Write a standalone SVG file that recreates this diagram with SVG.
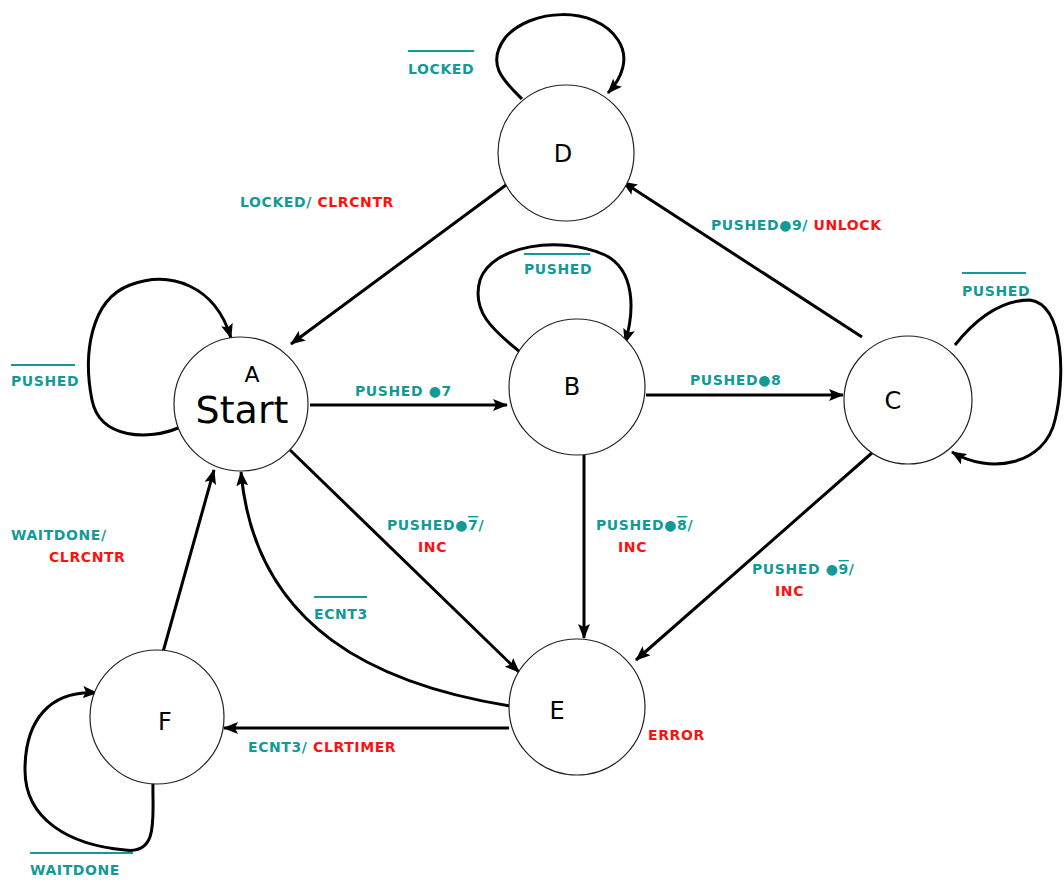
<svg xmlns="http://www.w3.org/2000/svg" width="1064" height="883" viewBox="0 0 1064 883">
<style>
.node{fill:#fff;stroke:#222;stroke-width:1.2}
.nl{font-family:"Comic Sans MS","DejaVu Sans",sans-serif;font-size:24px;fill:#000;text-anchor:middle}
.e{fill:none;stroke:#000;stroke-width:3}
.t{font-family:"DejaVu Sans",sans-serif;font-weight:bold;font-size:14px;fill:#139a96;letter-spacing:0.6px}
.r{fill:#ff1010}
.ov{stroke:#139a96;stroke-width:2}
</style>
<defs>
<marker id="ah" markerUnits="userSpaceOnUse" markerWidth="16" markerHeight="12" refX="14" refY="6" orient="auto">
<path d="M0,0 L15,6 L0,12 L3,6 z" fill="#000"/>
</marker>
</defs>
<rect width="1064" height="883" fill="#fff"/>
<g id="connectors">
<path class="e" marker-end="url(#ah)" d="M522,99 C505,82 485,65 505,38 C530,8 595,5 618,40 C630,58 622,78 608,93"/>
<path class="e" marker-end="url(#ah)" d="M506,185 L291,344"/>
<path class="e" marker-end="url(#ah)" d="M862,337 L623,182"/>
<path class="e" marker-end="url(#ah)" d="M178,428 C150,440 100,440 92,400 C83,355 90,300 130,285 C170,270 215,285 231,338"/>
<path class="e" marker-end="url(#ah)" d="M520,352 C500,335 470,315 480,280 C492,245 560,235 605,255 C635,270 635,310 625,343"/>
<path class="e" marker-end="url(#ah)" d="M955,345 C975,320 1000,300 1030,300 C1065,305 1065,380 1055,420 C1045,465 990,475 952,452"/>
<path class="e" marker-end="url(#ah)" d="M310,405 L507,405"/>
<path class="e" marker-end="url(#ah)" d="M646,395 L843,395"/>
<path class="e" marker-end="url(#ah)" d="M290,450 L519,672"/>
<path class="e" marker-end="url(#ah)" d="M584,455 L584,638"/>
<path class="e" marker-end="url(#ah)" d="M873,452 L636,660"/>
<path class="e" marker-end="url(#ah)" d="M510,706 C380,685 255,630 241,472"/>
<path class="e" marker-end="url(#ah)" d="M509,728 L224,728"/>
<path class="e" marker-end="url(#ah)" d="M163,652 L214,470"/>
<path class="e" marker-end="url(#ah)" d="M153,782 C152,815 160,855 125,850 C70,845 25,820 25,770 C25,720 50,690 97,693"/>
</g>
<g id="D"><circle class="node" cx="566" cy="153" r="68"/><text class="nl" x="563" y="162">D</text></g>
<g id="A"><circle class="node" cx="241" cy="404" r="67"/><text class="nl" x="252" y="382" style="font-size:22px">A</text><text class="nl" x="242" y="423" style="font-size:38px">Start</text></g>
<g id="B"><circle class="node" cx="577" cy="387" r="68"/><text class="nl" x="572" y="395">B</text></g>
<g id="C"><circle class="node" cx="908" cy="400" r="64"/><text class="nl" x="893" y="409">C</text></g>
<g id="E"><circle class="node" cx="577" cy="707" r="68"/><text class="nl" x="557" y="719">E</text></g>
<g id="F"><circle class="node" cx="157" cy="717" r="67"/><text class="nl" x="165" y="730">F</text></g>
<g id="labels">
<line class="ov" x1="408" y1="51" x2="474" y2="51"/>
<text class="t" x="408" y="74">LOCKED</text>
<text class="t" x="240" y="207">LOCKED/ <tspan class="r">CLRCNTR</tspan></text>
<text class="t" x="711" y="230">PUSHED●9/ <tspan class="r">UNLOCK</tspan></text>
<line class="ov" x1="524" y1="254" x2="590" y2="254"/>
<text class="t" x="524" y="274">PUSHED</text>
<line class="ov" x1="962" y1="273" x2="1026" y2="273"/>
<text class="t" x="962" y="296">PUSHED</text>
<line class="ov" x1="11" y1="365" x2="75" y2="365"/>
<text class="t" x="11" y="386">PUSHED</text>
<text class="t" x="355" y="396">PUSHED ●7</text>
<text class="t" x="690" y="385">PUSHED●8</text>
<text class="t" x="387" y="530">PUSHED●<tspan text-decoration="overline">7</tspan>/</text>
<text class="t r" x="418" y="552">INC</text>
<text class="t" x="596" y="530">PUSHED●<tspan text-decoration="overline">8</tspan>/</text>
<text class="t r" x="618" y="552">INC</text>
<text class="t" x="752" y="574">PUSHED ●<tspan text-decoration="overline">9</tspan>/</text>
<text class="t r" x="775" y="596">INC</text>
<line class="ov" x1="314" y1="597" x2="367" y2="597"/>
<text class="t" x="314" y="619">ECNT3</text>
<text class="t" x="11" y="540">WAITDONE/</text>
<text class="t r" x="49" y="562">CLRCNTR</text>
<text class="t" x="248" y="752">ECNT3/ <tspan class="r">CLRTIMER</tspan></text>
<text class="t r" x="648" y="740">ERROR</text>
<line class="ov" x1="30" y1="853" x2="133" y2="853"/>
<text class="t" x="30" y="875">WAITDONE</text>
</g>
</svg>
